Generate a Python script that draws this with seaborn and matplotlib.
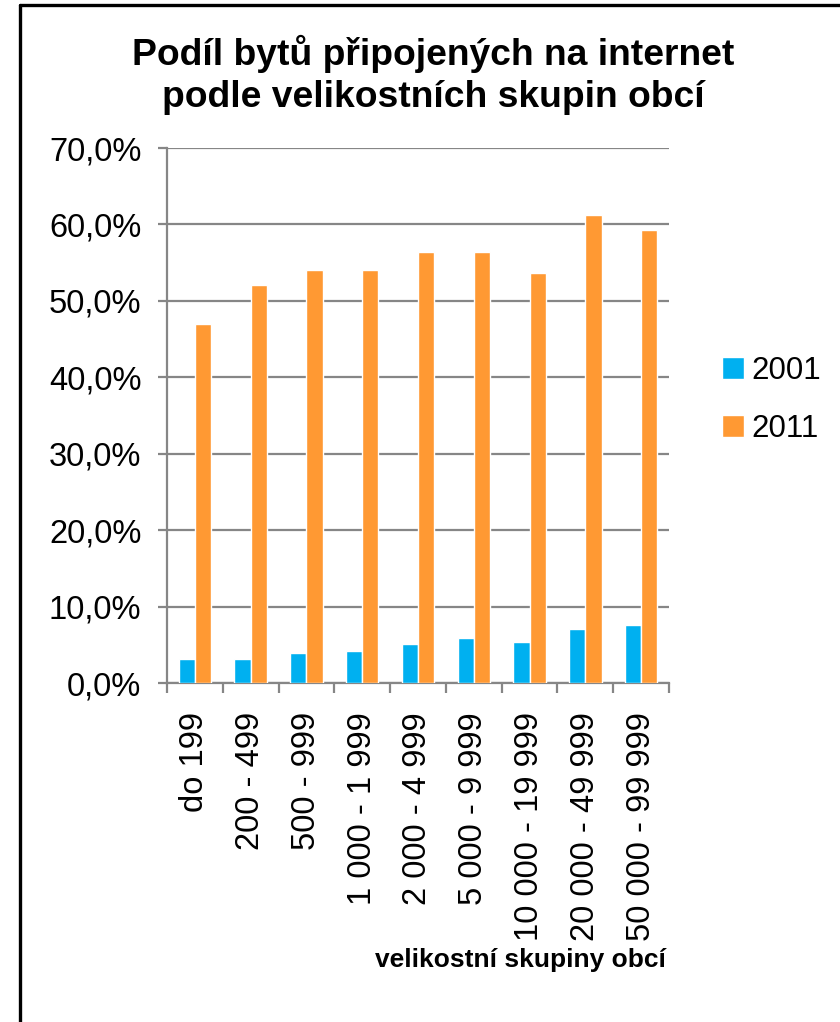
import matplotlib.pyplot as plt
import seaborn as sns
import pandas as pd
from matplotlib.lines import Line2D
from matplotlib.ticker import FixedLocator, FuncFormatter

# data
skupiny = ["do 199", "200 - 499", "500 - 999", "1 000 - 1 999", "2 000 - 4 999",
           "5 000 - 9 999", "10 000 - 19 999", "20 000 - 49 999", "50 000 - 99 999"]
podil_2001 = [3.2, 3.1, 3.9, 4.2, 5.1, 5.9, 5.4, 7.1, 7.6]
podil_2011 = [47.0, 52.1, 54.1, 54.1, 56.4, 56.4, 53.7, 61.2, 59.3]
roky = ["2001", "2011"]
barvy = ["#00B0F0", "#FF9933"]

df = pd.DataFrame({
    "skupina": skupiny * 2,
    "rok": [roky[0]] * len(skupiny) + [roky[1]] * len(skupiny),
    "podil": podil_2001 + podil_2011,
})

sns.set_theme(style="white", rc={"text.color": "black", "xtick.color": "black",
                                 "ytick.color": "black", "axes.labelcolor": "black"})
plt.rcParams['font.family'] = ['Liberation Sans', 'DejaVu Sans']

fig = plt.figure(figsize=(8.4, 10.22), dpi=100)
ax = fig.add_axes([167 / 840, 1 - 683 / 1022, 502 / 840, 535 / 1022])

sns.barplot(data=df, x="skupina", y="podil", hue="rok", palette=barvy,
            width=0.58, saturation=1, errorbar=None, ax=ax, zorder=3)

# axes styling
grey = "#868686"
ax.set_ylim(0, 70)
ax.set_xlim(-0.5, len(skupiny) - 0.5)
ax.yaxis.set_major_locator(FixedLocator(range(0, 71, 10)))
ax.yaxis.set_major_formatter(FuncFormatter(lambda v, p: f"{v:.1f}%".replace(".", ",")))
ax.grid(axis="y", color=grey, linewidth=1.6, zorder=0)
ax.set_axisbelow(True)
for s in ["top", "right"]:
    ax.spines[s].set_visible(False)
for s in ["left", "bottom"]:
    ax.spines[s].set_color(grey)
    ax.spines[s].set_linewidth(1.6)

ax.tick_params(axis="y", left=True, length=6.5, width=1.6, color=grey,
               labelsize=23.5, pad=12, labelcolor="black")
ax.set_xticks(range(len(skupiny)))
ax.set_xticklabels(skupiny, rotation=90, ha="center", va="top")
ax.tick_params(axis="x", which="major", length=0, labelsize=23.5, pad=21, labelcolor="black")
ax.set_xticks([i - 0.5 for i in range(len(skupiny) + 1)], minor=True)
ax.tick_params(axis="x", which="minor", bottom=True, length=7, width=1.6, color=grey)
ax.set_xlabel("")
ax.set_ylabel("")

# legend on the right
handles, labels = ax.get_legend_handles_labels()
ax.legend(handles, labels, loc="center left",
          bbox_to_anchor=(706 / 840, 1 - 400 / 1022), bbox_transform=fig.transFigure,
          frameon=False, fontsize=22.5, handlelength=0.7, handleheight=0.7,
          handletextpad=0.25, labelspacing=0.9, borderpad=0)

# titles
fig.text(0.516, 1 - 75 / 1022, "Podíl bytů připojených na internet\npodle velikostních skupin obcí",
         ha="center", va="center", fontsize=26.8, fontweight="bold", linespacing=1.28)
fig.text(666 / 840, 1 - 960 / 1022, "velikostní skupiny obcí",
         ha="right", va="center", fontsize=19, fontweight="bold")

# outer frame (left and top edges visible)
fig.add_artist(Line2D([20 / 840, 20 / 840], [0, 1 - 5 / 1022], color="black",
                      linewidth=2.4, transform=fig.transFigure))
fig.add_artist(Line2D([20 / 840, 1], [1 - 5 / 1022, 1 - 5 / 1022], color="black",
                      linewidth=2.4, transform=fig.transFigure))

plt.savefig("out.png", dpi=100)
